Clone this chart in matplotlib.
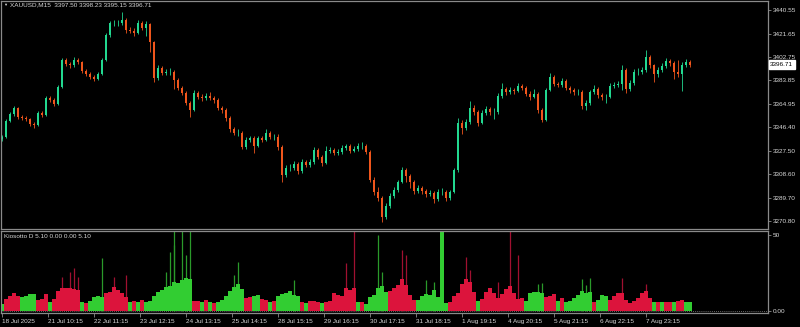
import matplotlib
matplotlib.use('Agg')

import numpy as np
import matplotlib.pyplot as plt
import matplotlib.transforms as mtransforms

first_open = 3336.5
closes = [3338.4, 3351.3, 3356.9, 3361.7, 3354.5, 3353.7, 3352.9, 3348.8, 3348.0, 3357.7,
          3356.1, 3369.8, 3368.1, 3364.9, 3378.6, 3400.3, 3397.1, 3396.3, 3400.3, 3398.7,
          3391.5, 3389.1, 3386.6, 3385.0, 3389.1, 3400.3, 3420.4, 3430.1, 3430.1, 3430.1,
          3432.5, 3424.5, 3423.7, 3422.0, 3430.1, 3426.1, 3429.3, 3414.8, 3385.8, 3393.9,
          3389.9, 3390.7, 3390.7, 3384.2, 3377.8, 3373.8, 3365.7, 3360.1, 3373.8, 3370.6,
          3369.8, 3371.4, 3369.8, 3368.1, 3361.7, 3360.1, 3353.7, 3344.8, 3341.6, 3341.6,
          3330.3, 3336.0, 3337.6, 3331.1, 3337.6, 3336.0, 3341.6, 3338.4, 3338.4, 3330.3,
          3307.8, 3313.4, 3313.4, 3316.7, 3311.0, 3318.3, 3315.9, 3318.3, 3327.9, 3322.3,
          3317.5, 3327.1, 3327.9, 3325.5, 3326.3, 3329.5, 3331.1, 3327.1, 3328.7, 3331.1,
          3331.1, 3326.3, 3303.8, 3294.1, 3289.3, 3274.0, 3282.9, 3290.9, 3295.7, 3302.2,
          3311.8, 3307.0, 3302.2, 3294.9, 3297.3, 3294.9, 3292.5, 3293.3, 3288.5, 3294.1,
          3294.1, 3289.3, 3294.1, 3311.8, 3349.6, 3345.6, 3350.4, 3361.7, 3358.5, 3349.6,
          3357.7, 3360.9, 3358.5, 3358.5, 3371.4, 3377.0, 3374.6, 3376.2, 3375.4, 3379.4,
          3377.8, 3373.0, 3370.6, 3373.0, 3360.1, 3352.1, 3376.2, 3386.6, 3381.0, 3380.2,
          3383.4, 3377.8, 3376.2, 3374.6, 3374.6, 3363.3, 3365.7, 3374.6, 3377.0, 3372.2,
          3370.6, 3370.6, 3379.4, 3380.2, 3381.0, 3392.3, 3377.0, 3381.8, 3390.7, 3390.7,
          3392.3, 3402.7, 3396.3, 3389.1, 3392.3, 3395.5, 3399.5, 3397.9, 3390.7, 3389.1,
          3396.3, 3398.7, 3396.71]

highs = [3340.0, 3352.9, 3358.4, 3363.5, 3362.9, 3356.3, 3355.2, 3354.0, 3350.3, 3359.4,
         3359.0, 3371.5, 3371.2, 3369.4, 3380.1, 3402.0, 3401.8, 3398.9, 3403.1, 3401.9,
         3399.8, 3393.0, 3390.5, 3388.1, 3390.9, 3401.8, 3422.1, 3432.0, 3432.4, 3432.8,
         3438.9, 3434.0, 3427.1, 3426.0, 3432.2, 3431.5, 3431.4, 3430.5, 3416.0, 3396.0,
         3395.5, 3393.2, 3393.6, 3392.5, 3386.0, 3379.5, 3375.0, 3367.0, 3376.0, 3375.5,
         3372.6, 3373.9, 3374.2, 3371.5, 3369.5, 3363.6, 3361.8, 3355.0, 3346.5, 3344.8,
         3343.0, 3338.0, 3339.4, 3339.0, 3339.5, 3339.3, 3344.5, 3343.4, 3341.0, 3340.6,
         3332.0, 3315.5, 3316.5, 3319.0, 3318.5, 3320.5, 3320.2, 3320.5, 3330.0, 3329.5,
         3324.0, 3331.5, 3330.0, 3329.8, 3328.6, 3331.8, 3333.0, 3332.8, 3331.0, 3333.5,
         3334.2, 3332.8, 3328.0, 3306.0, 3298.5, 3291.0, 3285.0, 3293.0, 3297.8, 3304.0,
         3314.0, 3313.5, 3308.5, 3304.0, 3299.5, 3299.2, 3296.8, 3296.0, 3295.0, 3296.5,
         3297.0, 3295.5, 3296.0, 3313.5, 3354.0, 3352.0, 3352.8, 3367.0, 3363.8, 3360.5,
         3360.0, 3363.5, 3362.8, 3361.5, 3373.5, 3381.5, 3379.0, 3378.5, 3378.0, 3381.5,
         3381.0, 3379.5, 3375.0, 3377.0, 3374.5, 3361.5, 3378.0, 3390.0, 3388.5, 3383.0,
         3385.5, 3385.0, 3379.8, 3378.0, 3377.2, 3376.0, 3368.0, 3376.5, 3380.5, 3378.5,
         3374.0, 3373.2, 3381.5, 3382.5, 3383.5, 3396.3, 3393.5, 3384.0, 3393.0, 3393.5,
         3395.0, 3408.4, 3404.5, 3397.5, 3394.5, 3398.0, 3402.0, 3401.5, 3399.5, 3400.5,
         3399.0, 3401.5, 3400.5]

lows = [3335.0, 3337.2, 3350.2, 3355.6, 3352.8, 3351.9, 3351.0, 3347.1, 3345.6, 3346.9,
        3354.2, 3355.0, 3366.3, 3363.0, 3363.8, 3377.5, 3395.2, 3393.9, 3395.0, 3396.9,
        3389.6, 3387.2, 3384.8, 3383.1, 3383.9, 3388.0, 3399.2, 3419.1, 3427.9, 3428.0,
        3428.6, 3422.0, 3421.8, 3419.9, 3421.0, 3424.2, 3420.0, 3407.0, 3382.4, 3384.5,
        3388.1, 3388.6, 3388.4, 3377.0, 3376.0, 3371.9, 3364.0, 3354.5, 3359.0, 3368.7,
        3367.5, 3368.3, 3367.9, 3366.0, 3359.8, 3358.0, 3351.5, 3342.6, 3339.8, 3339.5,
        3328.4, 3328.8, 3334.5, 3325.5, 3330.0, 3334.2, 3334.9, 3336.5, 3336.3, 3328.0,
        3302.2, 3306.0, 3311.0, 3312.0, 3309.0, 3309.5, 3314.0, 3314.5, 3317.0, 3320.5,
        3315.0, 3316.5, 3325.5, 3323.6, 3324.0, 3325.0, 3327.8, 3325.2, 3326.0, 3327.5,
        3329.0, 3324.5, 3302.0, 3292.0, 3287.0, 3270.0, 3272.5, 3281.5, 3289.5, 3294.5,
        3301.0, 3302.5, 3297.0, 3292.8, 3293.0, 3292.5, 3290.5, 3290.8, 3285.5, 3287.0,
        3292.0, 3287.0, 3288.0, 3293.0, 3310.5, 3341.0, 3344.0, 3349.0, 3356.0, 3347.0,
        3348.5, 3356.0, 3355.8, 3353.0, 3357.0, 3370.0, 3372.5, 3373.0, 3372.8, 3374.5,
        3375.8, 3371.0, 3368.5, 3369.5, 3358.0, 3350.4, 3351.0, 3375.0, 3379.2, 3378.5,
        3379.0, 3376.0, 3374.0, 3372.5, 3372.0, 3361.0, 3360.1, 3364.5, 3373.0, 3370.0,
        3368.5, 3366.0, 3369.5, 3377.5, 3378.5, 3376.0, 3374.0, 3375.5, 3380.5, 3388.0,
        3389.0, 3391.0, 3394.0, 3383.0, 3387.0, 3390.5, 3394.0, 3395.5, 3385.0, 3387.0,
        3375.4, 3394.5, 3394.5]

# Kiosotto histogram: fill level per candle, its colour (G up / R down) and thin spikes
osc = [4.4, 7.9, 10.1, 11.6, 9.9, 9.4, 10.1, 11.2, 11.0, 7.2,
       7.9, 11.2, 6.1, 7.9, 13.2, 15.4, 14.9, 15.4, 14.5, 13.8,
       6.1, 5.0, 6.6, 9.4, 10.1, 9.4, 11.6, 12.7, 16.0, 13.8,
       11.6, 9.4, 6.1, 6.6, 5.7, 7.2, 6.1, 6.6, 10.1, 12.7,
       14.0, 16.0, 16.7, 18.9, 18.2, 20.4, 21.5, 20.8, 6.6, 6.6,
       6.1, 7.2, 6.1, 5.0, 5.7, 7.2, 10.1, 13.2, 15.6, 17.5,
       14.5, 8.8, 9.4, 10.1, 10.5, 7.9, 7.2, 6.1, 6.6, 10.1,
       11.0, 11.6, 13.4, 10.5, 9.9, 6.1, 5.5, 6.6, 6.6, 6.1,
       5.5, 5.7, 6.6, 12.1, 10.5, 10.1, 14.9, 13.8, 14.9, 5.7,
       5.7, 4.4, 9.4, 10.5, 15.4, 16.7, 12.7, 13.2, 15.4, 17.1,
       21.1, 17.1, 10.5, 7.2, 7.2, 10.1, 11.2, 10.5, 13.8, 9.4,
       52.6, 5.5, 6.1, 9.9, 12.1, 17.5, 21.1, 18.9, 12.3, 6.6,
       7.9, 12.3, 14.9, 11.6, 8.8, 11.0, 14.3, 16.7, 11.6, 7.9,
       8.3, 6.6, 12.1, 12.7, 12.7, 11.6, 9.4, 10.1, 11.2, 6.6,
       8.8, 6.1, 6.6, 8.3, 10.5, 13.4, 11.6, 12.7, 6.1, 7.2,
       10.5, 9.9, 7.2, 9.9, 12.1, 11.6, 7.2, 5.5, 6.6, 8.8,
       12.1, 13.4, 8.3, 5.7, 5.7, 6.1, 5.7, 6.1, 5.7, 6.6,
       7.2, 5.7, 5.7]
osc_dir = ("GRRRRGGGGR" "RRGRRRRRRR" "GRGGGGRRRR" "RRGRGRGGGG" "GGGGGGGGRR"
           "GRGRGGGGGG" "GRRGGRRGRG" "GGGGGRGRRR" "GRRRRRRRRG" "RGGGGGGRRR"
           "RRRRGGGGGG" "GGRRRRRRRG" "RRRRRRRRRR" "RGGGGGRRRG" "RGGGGGGGRG"
           "GGRRRRRRRR" "RRRGRGRRGR" "RGG")
spike_bar = [15, 17, 18, 19, 25, 28, 31, 41, 42, 43, 43, 45, 46, 47, 58, 59, 73, 86,
             88, 94, 95, 100, 101, 106, 108, 116, 117, 124, 127, 129, 134, 135,
             145, 146, 147, 155, 161]
spike_val = [22.6, 25.9, 28.1, 22.6, 34.6, 22.6, 23.7, 25.9, 39.0, 52.6, 43.4, 52.6,
             36.8, 52.6, 23.7, 32.5, 20.4, 31.4, 52.6, 50.0, 25.9, 40.1, 36.8, 20.4,
             19.3, 35.7, 27.0, 19.3, 52.6, 36.8, 17.5, 18.2, 20.8, 17.1, 21.9, 21.5, 17.5]

price_ticks = [3440.55, 3421.65, 3402.75, 3383.85, 3364.95, 3346.40,
               3327.50, 3308.60, 3289.70, 3270.80]
date_labels = ['18 Jul 2025', '21 Jul 10:15', '22 Jul 11:15', '23 Jul 12:15',
               '24 Jul 13:15', '25 Jul 14:15', '28 Jul 15:15', '29 Jul 16:15',
               '30 Jul 17:15', '31 Jul 18:15', '1 Aug 19:15', '4 Aug 20:15',
               '5 Aug 21:15', '6 Aug 22:15', '7 Aug 23:15']
header = 'XAUUSD,M15  3397.50 3398.23 3395.15 3396.71'
ind_header = 'Kiosotto D 5.10 0.00 0.00 5.10'
last_price = 3396.71

# colours (MT4 style)
BG = 'black'
FRAME = '#8a8a8a'
TXT = '#d8d8d8'
BULL = '#22d890'
BEAR = '#f0561c'
H_UP, H_DN = '#32cd32', '#dc143c'
S_UP, S_DN = '#2a9a2a', '#a01030'

plt.rcParams['font.family'] = ['Liberation Sans', 'DejaVu Sans']
plt.rcParams['font.size'] = 4.6

W, H = 800, 327
fig = plt.figure(figsize=(W / 100, H / 100), dpi=100, facecolor=BG)


def box(x0, y0, x1, y1):
    # pixel box (top-left origin) -> figure fraction rect
    return [x0 / W, 1 - y1 / H, (x1 - x0) / W, (y1 - y0) / H]


ax = fig.add_axes(box(1, 1, 768, 229), facecolor=BG)
axi = fig.add_axes(box(1, 231, 768, 313), facecolor=BG)

closes = np.array(closes)
highs = np.array(highs)
lows = np.array(lows)
opens = np.r_[first_open, closes[:-1]]  # gapless: each candle opens at prior close
x = np.arange(len(closes))
col = np.where(closes >= opens, BULL, BEAR)

ax.vlines(x, lows, highs, colors=col, lw=0.6)
body = np.maximum(np.abs(closes - opens), 0.35)
ax.bar(x, body, bottom=np.minimum(opens, closes), width=0.55, color=col, linewidth=0)

ax.set_xlim(-0.25, 191.5)
ax.set_ylim(3264.36, 3447.8)
ax.yaxis.tick_right()
ax.set_yticks(price_ticks)
ax.set_yticklabels([f'{p:.2f}' for p in price_ticks])
ax.tick_params(axis='y', colors=FRAME, labelcolor=TXT, length=2, width=0.6, pad=1.2)
ax.set_xticks([])
for s in ax.spines.values():
    s.set_color(FRAME)
    s.set_linewidth(0.9)

# current price tag
tr = mtransforms.blended_transform_factory(ax.transAxes, ax.transData)
ax.text(1.003, last_price, f'{last_price:.2f}', transform=tr, va='center', ha='left',
        color='black', fontsize=4.6,
        bbox=dict(facecolor='white', edgecolor='white', pad=0.25, boxstyle='square'))

fig.text(5 / W, 1 - 5 / H, '▼', color=TXT, fontsize=3, va='center', ha='center')
fig.text(10 / W, 1 - 5 / H, header, color=TXT, va='center', ha='left')

# indicator panel
hcol = [H_UP if d == 'G' else H_DN for d in osc_dir]
scol = [S_UP if osc_dir[i] == 'G' else S_DN for i in spike_bar]
axi.axhline(0, color=FRAME, ls=(0, (1, 1.5)), lw=0.6, zorder=0)
axi.vlines(spike_bar, 0, spike_val, colors=scol, lw=0.9, zorder=1)
axi.bar(np.arange(len(osc)), osc, width=1.0, color=hcol, linewidth=0, zorder=2)
axi.set_xlim(-0.25, 191.5)
axi.set_ylim(-1.3, 52.6)
axi.yaxis.tick_right()
axi.set_yticks([50, 0])
axi.set_yticklabels(['50', '0.00'])
axi.tick_params(axis='y', colors=FRAME, labelcolor=TXT, length=2, width=0.6, pad=1.2)
axi.set_xticks(np.arange(len(date_labels)) * 11.5)
axi.set_xticklabels(date_labels, ha='left')
axi.tick_params(axis='x', colors=FRAME, labelcolor=TXT, length=3, width=0.6, pad=1.5)
for s in axi.spines.values():
    s.set_color(FRAME)
    s.set_linewidth(0.9)
axi.text(3 / 767, 0.93, ind_header, transform=axi.transAxes, color=TXT,
         va='center', ha='left')

fig.savefig('out.png', dpi=100, facecolor=BG)
plt.close(fig)
